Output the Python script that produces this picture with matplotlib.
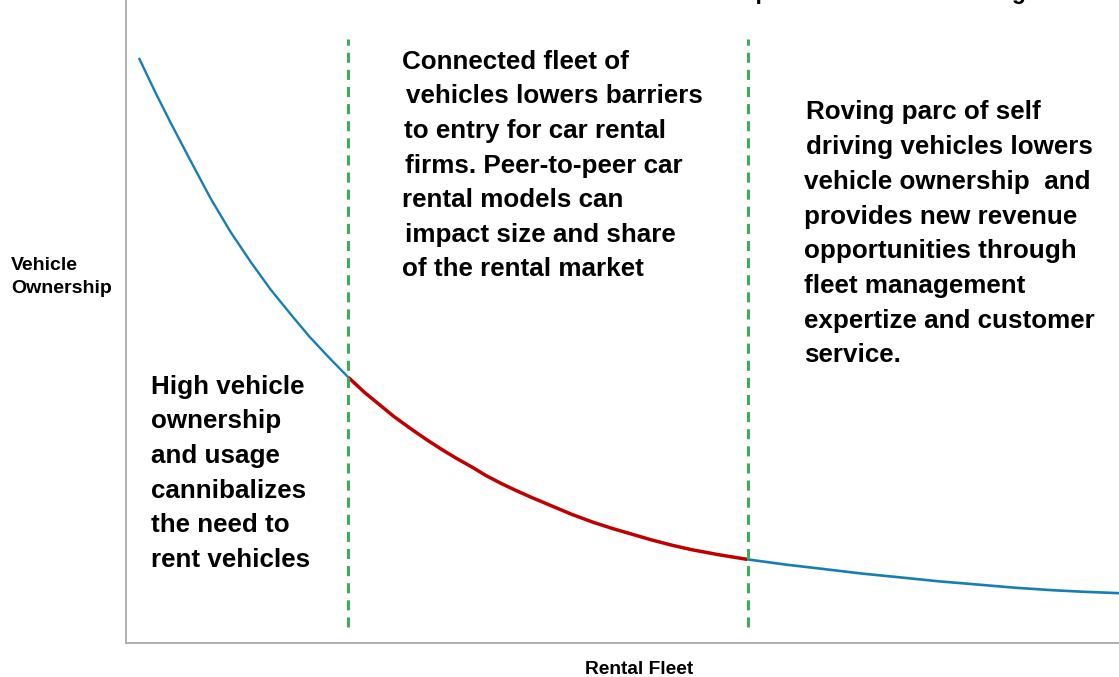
import numpy as np
import matplotlib
matplotlib.use("Agg")
import matplotlib.pyplot as plt

# ---- data ----
fleet = np.array([1.3, 3.0, 4.5, 6.5, 8.5, 10.5, 12.5, 14.5, 16.6, 18.5, 20.5, 22.4,
                  24.0, 25.5, 27.0, 28.7, 30.2, 31.8, 33.3, 34.8, 36.3, 37.8, 39.3,
                  40.9, 42.9, 44.9, 47.0, 49.0, 51.0, 53.0, 55.0, 57.0, 59.8, 62.6,
                  66.4, 70.3, 74.1, 78.0, 81.8, 85.7, 89.5, 93.4, 96.7, 100.0])
ownership = np.array([91.0, 85.5, 80.9, 75.0, 69.2, 64.0, 59.4, 55.1, 51.1, 47.6, 44.3, 41.3,
                      39.0, 37.1, 35.2, 33.3, 31.7, 30.1, 28.7, 27.4, 26.0, 24.8, 23.7,
                      22.6, 21.3, 20.0, 18.8, 17.8, 16.9, 16.0, 15.2, 14.5, 13.7, 13.0,
                      12.2, 11.5, 10.8, 10.2, 9.6, 9.1, 8.6, 8.2, 7.95, 7.75])
phase_bounds = [22.4, 62.6]

left_text = ["High vehicle", "ownership", "and usage", "cannibalizes",
             "the need to", "rent vehicles"]
mid_text = ["Connected fleet of", "vehicles lowers barriers", "to entry for car rental",
            "firms. Peer-to-peer car", "rental models can", "impact size and share",
            "of the rental market"]
right_text = ["Roving parc of self", "driving vehicles lowers", "vehicle ownership  and",
              "provides new revenue", "opportunities through", "fleet management",
              "expertize and customer", "service."]
y_label = ["Vehicle", "Ownership"]
x_label = "Rental Fleet"
title = "Vehicle Ownership and Rental Fleet Sizing"

# ---- layout ----
W, H = 1119, 677
FONT = "Liberation Sans"
BLUE = "#177db5"
RED = "#c00000"
GREEN = "#3dae57"

fig = plt.figure(figsize=(W / 100, H / 100), dpi=100)
ax = fig.add_axes([126 / W, 34 / H, 1 - 126 / W, 643 / H])
ax.set_xlim(0, 100)
ax.set_ylim(0, 100)
for s in ("top", "right"):
    ax.spines[s].set_visible(False)
for s in ("left", "bottom"):
    ax.spines[s].set_color("#a3a3a3")
    ax.spines[s].set_linewidth(1.2)
ax.set_xticks([])
ax.set_yticks([])

lo, hi = phase_bounds
m1 = fleet <= lo
m2 = (fleet >= lo) & (fleet <= hi)
m3 = fleet >= hi
ax.plot(fleet[m1], ownership[m1], color=BLUE, lw=1.7, solid_capstyle="butt",
        solid_joinstyle="round", zorder=2)
ax.plot(fleet[m2], ownership[m2], color=RED, lw=2.5, solid_capstyle="butt",
        solid_joinstyle="round", zorder=3)
ax.plot(fleet[m3], ownership[m3], color=BLUE, lw=1.9, solid_capstyle="butt",
        solid_joinstyle="round", zorder=2)

for xb in phase_bounds:
    ax.plot([xb, xb], [2.5, 94.0], color=GREEN, lw=2.2,
            linestyle=(0, (3.3, 2.3)), dash_capstyle="butt", zorder=4)


def ftext(x, y, s, size, ha="left"):
    fig.text(x / W, 1 - y / H, s, ha=ha, va="baseline", fontsize=size,
             fontweight="bold", family=FONT)


MAIN = 18.7
left_x = [151] * 6
for i, s in enumerate(left_text):
    ftext(left_x[i], 393.6 + i * 34.65, s, MAIN)

mid_x = [402, 406, 404, 405, 402, 405, 402]
for i, s in enumerate(mid_text):
    ftext(mid_x[i], 68.6 + i * 34.65, s, MAIN)

right_x = [806, 806, 804, 804, 804, 804, 804, 804]
for i, s in enumerate(right_text):
    ftext(right_x[i], 119.5 + i * 34.7, s, MAIN)

ftext(11, 269.5, y_label[0], 14)
ftext(11, 292.7, y_label[1], 14)
ftext(639, 673.5, x_label, 13.8, ha="center")

ftext(1026, -1.5, title, 16.5, ha="right")

fig.savefig("out.png", dpi=100)
